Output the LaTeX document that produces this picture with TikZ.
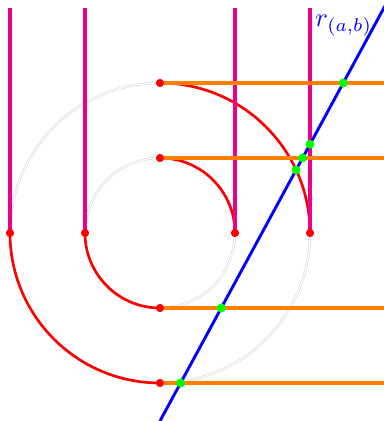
\documentclass[tikz,border=0pt]{standalone}
\usepackage{amsmath,amssymb}
\usepackage{tikz}
\usetikzlibrary{intersections,positioning}
\definecolor{pinkline}{RGB}{236,0,140}

\begin{document}
\begin{tikzpicture}[
  vline/.style={draw=pinkline, line width=1.2pt},
  hline/.style={draw=orange, line width=1.2pt},
  arcline/.style={draw=red, line width=1pt},
  rline/.style={draw=blue, line width=1.1pt},
  guide/.style={draw=black!18, line width=0.2pt, double=white, double distance=0.45pt},
  rdot/.style={circle, fill=red, inner sep=0pt, minimum size=3pt},
  gdot/.style={circle, fill=green, inner sep=0pt, minimum size=3.4pt}
]
\useasboundingbox (-2.1333,-2.5067) rectangle (2.9867,3.1067);
\coordinate (o) at (0,0);
\draw[guide] (o) circle (1);
\draw[guide] (o) circle (2);
\node[rdot] (l2) at (-2,0) {};
\node[rdot] (l1) at (-1,0) {};
\node[rdot] (r1) at (1,0) {};
\node[rdot] (r2) at (2,0) {};
\node[rdot] (u2) at (0,2) {};
\node[rdot] (u1) at (0,1) {};
\node[rdot] (d1) at (0,-1) {};
\node[rdot] (d2) at (0,-2) {};
\coordinate (tl2) at (-2,3);
\coordinate (tl1) at (-1,3);
\coordinate (tr1) at (1,3);
\coordinate (tr2) at (2,3);
\coordinate (e) at (2.9867,0);
\draw[arcline, name path=c2] (u2.center) arc[start angle=90, end angle=0, radius=2];
\draw[arcline] (u1.center) arc[start angle=90, end angle=0, radius=1];
\draw[arcline] (l2.center) arc[start angle=180, end angle=270, radius=2];
\draw[arcline] (l1.center) arc[start angle=180, end angle=270, radius=1];
\draw[vline] (l2.center) -- (tl2);
\draw[vline] (l1.center) -- (tl1);
\draw[vline] (r1.center) -- (tr1);
\draw[vline, name path=v2] (r2.center) -- (tr2);
\draw[hline, name path=h1] (u2.center) -- (u2.center -| e);
\draw[hline, name path=h2] (u1.center) -- (u1.center -| e);
\draw[hline, name path=h3] (d1.center) -- (d1.center -| e);
\draw[hline, name path=h4] (d2.center) -- (d2.center -| e);
\coordinate (b0) at (0,-2.5067);
\coordinate (b1) at (3.05,3.12);
\draw[rline, name path=r] (b0) -- (b1);
\node[text=blue] (rl) at (2.45,2.76) {$r_{(a,b)}$};
\foreach \p in {l2,l1,r1,r2,u2,u1,d1,d2}
  \node[rdot] at (\p) {};
\path[name intersections={of=r and h1, by=g1}];
\path[name intersections={of=r and h2, by=g2}];
\path[name intersections={of=r and h3, by=g3}];
\path[name intersections={of=r and h4, by=g4}];
\path[name intersections={of=r and v2, by=g5}];
\path[name intersections={of=r and c2, by=g6}];
\foreach \g in {g1,g2,g3,g4,g5,g6}
  \node[gdot] (n\g) at (\g) {};
\end{tikzpicture}
\end{document}
